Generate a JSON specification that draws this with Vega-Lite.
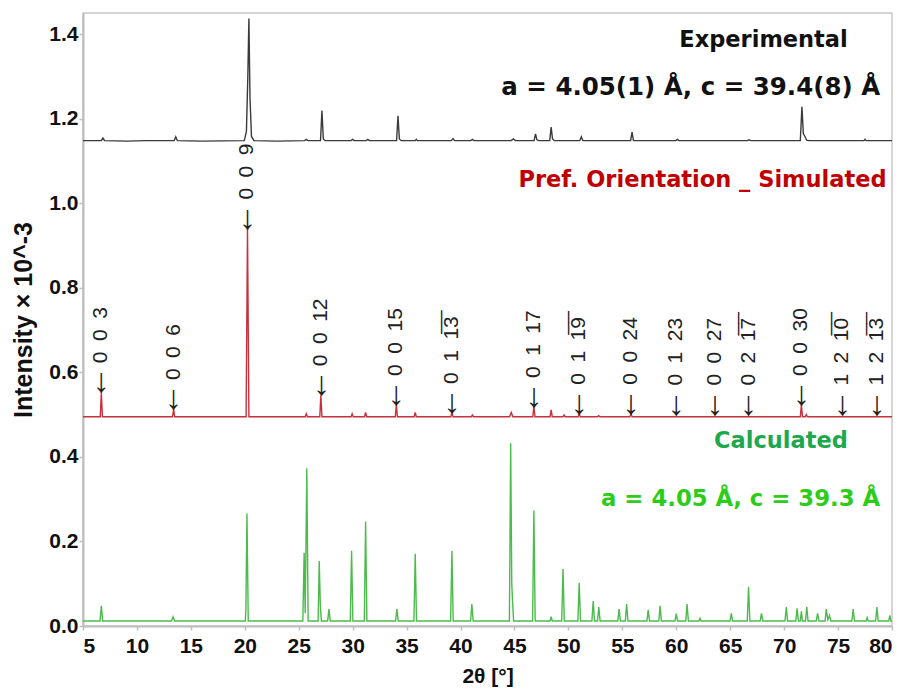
{
  "$schema": "https://vega.github.io/schema/vega-lite/v6.json",
  "width": 809,
  "height": 613,
  "autosize": "none",
  "padding": {"left": 83, "top": 13, "right": 15, "bottom": 64},
  "background": "white",
  "config": {
    "view": {"stroke": "#c8c8c8", "strokeWidth": 1.5},
    "axis": {
      "grid": false,
      "domainColor": "#bdbdbd",
      "domainWidth": 2,
      "tickColor": "#bdbdbd",
      "tickSize": 4,
      "tickWidth": 1.5,
      "labelFont": "Liberation Sans",
      "labelFontWeight": "bold",
      "labelFontSize": 21,
      "labelColor": "#111111",
      "titleFont": "Liberation Sans",
      "titleFontWeight": "bold",
      "titleColor": "#111111"
    }
  },
  "datasets": {
    "spectra": [
      {"s": "Experimental", "x": 5, "y": 1.148},
      {"s": "Experimental", "x": 6.7, "y": 1.148},
      {"s": "Experimental", "x": 6.85, "y": 1.154},
      {"s": "Experimental", "x": 7.0, "y": 1.148},
      {"s": "Experimental", "x": 9, "y": 1.147},
      {"s": "Experimental", "x": 11, "y": 1.148},
      {"s": "Experimental", "x": 13.45, "y": 1.148},
      {"s": "Experimental", "x": 13.6, "y": 1.157},
      {"s": "Experimental", "x": 13.75, "y": 1.148},
      {"s": "Experimental", "x": 16, "y": 1.147},
      {"s": "Experimental", "x": 19.95, "y": 1.148},
      {"s": "Experimental", "x": 20.15, "y": 1.17},
      {"s": "Experimental", "x": 20.28, "y": 1.3},
      {"s": "Experimental", "x": 20.38, "y": 1.437},
      {"s": "Experimental", "x": 20.48, "y": 1.25},
      {"s": "Experimental", "x": 20.62, "y": 1.158},
      {"s": "Experimental", "x": 20.85, "y": 1.148},
      {"s": "Experimental", "x": 23, "y": 1.147},
      {"s": "Experimental", "x": 25.55, "y": 1.148},
      {"s": "Experimental", "x": 25.7, "y": 1.151},
      {"s": "Experimental", "x": 25.85, "y": 1.148},
      {"s": "Experimental", "x": 27.02, "y": 1.148},
      {"s": "Experimental", "x": 27.15, "y": 1.219},
      {"s": "Experimental", "x": 27.28, "y": 1.152},
      {"s": "Experimental", "x": 27.45, "y": 1.148},
      {"s": "Experimental", "x": 29.85, "y": 1.148},
      {"s": "Experimental", "x": 30.0, "y": 1.151},
      {"s": "Experimental", "x": 30.15, "y": 1.148},
      {"s": "Experimental", "x": 31.25, "y": 1.148},
      {"s": "Experimental", "x": 31.4, "y": 1.151},
      {"s": "Experimental", "x": 31.55, "y": 1.148},
      {"s": "Experimental", "x": 34.07, "y": 1.148},
      {"s": "Experimental", "x": 34.2, "y": 1.207},
      {"s": "Experimental", "x": 34.33, "y": 1.152},
      {"s": "Experimental", "x": 34.5, "y": 1.148},
      {"s": "Experimental", "x": 35.8, "y": 1.148},
      {"s": "Experimental", "x": 35.9, "y": 1.151},
      {"s": "Experimental", "x": 36.0, "y": 1.148},
      {"s": "Experimental", "x": 39.15, "y": 1.148},
      {"s": "Experimental", "x": 39.3, "y": 1.153},
      {"s": "Experimental", "x": 39.45, "y": 1.148},
      {"s": "Experimental", "x": 40.95, "y": 1.148},
      {"s": "Experimental", "x": 41.1, "y": 1.151},
      {"s": "Experimental", "x": 41.25, "y": 1.148},
      {"s": "Experimental", "x": 44.7, "y": 1.148},
      {"s": "Experimental", "x": 44.9, "y": 1.152},
      {"s": "Experimental", "x": 45.1, "y": 1.148},
      {"s": "Experimental", "x": 46.82, "y": 1.148},
      {"s": "Experimental", "x": 46.95, "y": 1.164},
      {"s": "Experimental", "x": 47.08, "y": 1.15},
      {"s": "Experimental", "x": 47.25, "y": 1.148},
      {"s": "Experimental", "x": 48.27, "y": 1.148},
      {"s": "Experimental", "x": 48.4, "y": 1.18},
      {"s": "Experimental", "x": 48.53, "y": 1.152},
      {"s": "Experimental", "x": 48.7, "y": 1.148},
      {"s": "Experimental", "x": 51.05, "y": 1.148},
      {"s": "Experimental", "x": 51.2, "y": 1.157},
      {"s": "Experimental", "x": 51.35, "y": 1.148},
      {"s": "Experimental", "x": 55.77, "y": 1.148},
      {"s": "Experimental", "x": 55.9, "y": 1.168},
      {"s": "Experimental", "x": 56.03, "y": 1.148},
      {"s": "Experimental", "x": 59.95, "y": 1.148},
      {"s": "Experimental", "x": 60.1, "y": 1.151},
      {"s": "Experimental", "x": 60.25, "y": 1.148},
      {"s": "Experimental", "x": 66.6, "y": 1.148},
      {"s": "Experimental", "x": 66.75, "y": 1.15},
      {"s": "Experimental", "x": 66.9, "y": 1.148},
      {"s": "Experimental", "x": 71.5, "y": 1.148},
      {"s": "Experimental", "x": 71.65, "y": 1.228},
      {"s": "Experimental", "x": 71.78, "y": 1.165},
      {"s": "Experimental", "x": 71.93, "y": 1.158},
      {"s": "Experimental", "x": 72.08, "y": 1.149},
      {"s": "Experimental", "x": 72.3, "y": 1.148},
      {"s": "Experimental", "x": 77.4, "y": 1.148},
      {"s": "Experimental", "x": 77.5, "y": 1.151},
      {"s": "Experimental", "x": 77.6, "y": 1.148},
      {"s": "Experimental", "x": 80, "y": 1.148},

      {"s": "Simulated", "x": 5, "y": 0.495},
      {"s": "Simulated", "x": 6.6, "y": 0.495},
      {"s": "Simulated", "x": 6.7, "y": 0.553},
      {"s": "Simulated", "x": 6.8, "y": 0.495},
      {"s": "Simulated", "x": 13.3, "y": 0.495},
      {"s": "Simulated", "x": 13.4, "y": 0.513},
      {"s": "Simulated", "x": 13.5, "y": 0.495},
      {"s": "Simulated", "x": 20.12, "y": 0.495},
      {"s": "Simulated", "x": 20.25, "y": 0.94},
      {"s": "Simulated", "x": 20.38, "y": 0.495},
      {"s": "Simulated", "x": 25.6, "y": 0.495},
      {"s": "Simulated", "x": 25.7, "y": 0.502},
      {"s": "Simulated", "x": 25.8, "y": 0.495},
      {"s": "Simulated", "x": 26.95, "y": 0.495},
      {"s": "Simulated", "x": 27.05, "y": 0.546},
      {"s": "Simulated", "x": 27.15, "y": 0.495},
      {"s": "Simulated", "x": 29.85, "y": 0.495},
      {"s": "Simulated", "x": 29.95, "y": 0.502},
      {"s": "Simulated", "x": 30.05, "y": 0.495},
      {"s": "Simulated", "x": 31.1, "y": 0.495},
      {"s": "Simulated", "x": 31.2, "y": 0.505},
      {"s": "Simulated", "x": 31.3, "y": 0.495},
      {"s": "Simulated", "x": 33.95, "y": 0.495},
      {"s": "Simulated", "x": 34.05, "y": 0.523},
      {"s": "Simulated", "x": 34.15, "y": 0.495},
      {"s": "Simulated", "x": 35.7, "y": 0.495},
      {"s": "Simulated", "x": 35.8, "y": 0.505},
      {"s": "Simulated", "x": 35.9, "y": 0.495},
      {"s": "Simulated", "x": 39.1, "y": 0.495},
      {"s": "Simulated", "x": 39.2, "y": 0.504},
      {"s": "Simulated", "x": 39.3, "y": 0.495},
      {"s": "Simulated", "x": 41.0, "y": 0.495},
      {"s": "Simulated", "x": 41.1, "y": 0.499},
      {"s": "Simulated", "x": 41.2, "y": 0.495},
      {"s": "Simulated", "x": 44.55, "y": 0.495},
      {"s": "Simulated", "x": 44.7, "y": 0.505},
      {"s": "Simulated", "x": 44.85, "y": 0.495},
      {"s": "Simulated", "x": 46.7, "y": 0.495},
      {"s": "Simulated", "x": 46.8, "y": 0.52},
      {"s": "Simulated", "x": 46.9, "y": 0.495},
      {"s": "Simulated", "x": 48.3, "y": 0.495},
      {"s": "Simulated", "x": 48.4, "y": 0.511},
      {"s": "Simulated", "x": 48.5, "y": 0.495},
      {"s": "Simulated", "x": 49.5, "y": 0.495},
      {"s": "Simulated", "x": 49.6, "y": 0.499},
      {"s": "Simulated", "x": 49.7, "y": 0.495},
      {"s": "Simulated", "x": 50.9, "y": 0.495},
      {"s": "Simulated", "x": 51.0, "y": 0.502},
      {"s": "Simulated", "x": 51.1, "y": 0.495},
      {"s": "Simulated", "x": 52.7, "y": 0.495},
      {"s": "Simulated", "x": 52.8, "y": 0.498},
      {"s": "Simulated", "x": 52.9, "y": 0.495},
      {"s": "Simulated", "x": 55.7, "y": 0.495},
      {"s": "Simulated", "x": 55.8, "y": 0.502},
      {"s": "Simulated", "x": 55.9, "y": 0.495},
      {"s": "Simulated", "x": 71.5, "y": 0.495},
      {"s": "Simulated", "x": 71.6, "y": 0.523},
      {"s": "Simulated", "x": 71.7, "y": 0.495},
      {"s": "Simulated", "x": 71.95, "y": 0.495},
      {"s": "Simulated", "x": 72.05, "y": 0.5},
      {"s": "Simulated", "x": 72.15, "y": 0.495},
      {"s": "Simulated", "x": 80, "y": 0.495},

      {"s": "Calculated", "x": 5, "y": 0.012},
      {"s": "Calculated", "x": 6.58, "y": 0.012},
      {"s": "Calculated", "x": 6.7, "y": 0.048},
      {"s": "Calculated", "x": 6.82, "y": 0.012},
      {"s": "Calculated", "x": 13.2, "y": 0.012},
      {"s": "Calculated", "x": 13.35, "y": 0.022},
      {"s": "Calculated", "x": 13.5, "y": 0.012},
      {"s": "Calculated", "x": 20.05, "y": 0.012},
      {"s": "Calculated", "x": 20.1, "y": 0.04},
      {"s": "Calculated", "x": 20.2, "y": 0.266},
      {"s": "Calculated", "x": 20.32, "y": 0.012},
      {"s": "Calculated", "x": 25.38, "y": 0.012},
      {"s": "Calculated", "x": 25.5, "y": 0.173},
      {"s": "Calculated", "x": 25.6, "y": 0.03},
      {"s": "Calculated", "x": 25.75, "y": 0.373},
      {"s": "Calculated", "x": 25.87, "y": 0.012},
      {"s": "Calculated", "x": 26.8, "y": 0.012},
      {"s": "Calculated", "x": 26.9, "y": 0.154},
      {"s": "Calculated", "x": 27.0, "y": 0.05},
      {"s": "Calculated", "x": 27.1, "y": 0.012},
      {"s": "Calculated", "x": 27.68, "y": 0.012},
      {"s": "Calculated", "x": 27.8, "y": 0.04},
      {"s": "Calculated", "x": 27.92, "y": 0.012},
      {"s": "Calculated", "x": 29.78, "y": 0.012},
      {"s": "Calculated", "x": 29.9, "y": 0.178},
      {"s": "Calculated", "x": 30.02, "y": 0.012},
      {"s": "Calculated", "x": 31.08, "y": 0.012},
      {"s": "Calculated", "x": 31.2, "y": 0.247},
      {"s": "Calculated", "x": 31.32, "y": 0.012},
      {"s": "Calculated", "x": 33.98, "y": 0.012},
      {"s": "Calculated", "x": 34.1, "y": 0.04},
      {"s": "Calculated", "x": 34.22, "y": 0.012},
      {"s": "Calculated", "x": 35.68, "y": 0.012},
      {"s": "Calculated", "x": 35.8, "y": 0.171},
      {"s": "Calculated", "x": 35.92, "y": 0.012},
      {"s": "Calculated", "x": 39.08, "y": 0.012},
      {"s": "Calculated", "x": 39.2, "y": 0.178},
      {"s": "Calculated", "x": 39.32, "y": 0.012},
      {"s": "Calculated", "x": 40.93, "y": 0.012},
      {"s": "Calculated", "x": 41.05, "y": 0.052},
      {"s": "Calculated", "x": 41.17, "y": 0.012},
      {"s": "Calculated", "x": 44.53, "y": 0.012},
      {"s": "Calculated", "x": 44.65, "y": 0.432},
      {"s": "Calculated", "x": 44.75, "y": 0.1},
      {"s": "Calculated", "x": 44.82, "y": 0.06},
      {"s": "Calculated", "x": 44.92, "y": 0.012},
      {"s": "Calculated", "x": 46.68, "y": 0.012},
      {"s": "Calculated", "x": 46.8, "y": 0.273},
      {"s": "Calculated", "x": 46.92, "y": 0.012},
      {"s": "Calculated", "x": 48.3, "y": 0.012},
      {"s": "Calculated", "x": 48.4, "y": 0.022},
      {"s": "Calculated", "x": 48.5, "y": 0.012},
      {"s": "Calculated", "x": 49.38, "y": 0.012},
      {"s": "Calculated", "x": 49.5, "y": 0.135},
      {"s": "Calculated", "x": 49.62, "y": 0.012},
      {"s": "Calculated", "x": 50.88, "y": 0.012},
      {"s": "Calculated", "x": 51.0, "y": 0.102},
      {"s": "Calculated", "x": 51.12, "y": 0.012},
      {"s": "Calculated", "x": 52.18, "y": 0.012},
      {"s": "Calculated", "x": 52.3, "y": 0.059},
      {"s": "Calculated", "x": 52.42, "y": 0.012},
      {"s": "Calculated", "x": 52.7, "y": 0.012},
      {"s": "Calculated", "x": 52.82, "y": 0.045},
      {"s": "Calculated", "x": 52.94, "y": 0.012},
      {"s": "Calculated", "x": 54.58, "y": 0.012},
      {"s": "Calculated", "x": 54.7, "y": 0.04},
      {"s": "Calculated", "x": 54.82, "y": 0.012},
      {"s": "Calculated", "x": 55.28, "y": 0.012},
      {"s": "Calculated", "x": 55.4, "y": 0.052},
      {"s": "Calculated", "x": 55.52, "y": 0.012},
      {"s": "Calculated", "x": 57.28, "y": 0.012},
      {"s": "Calculated", "x": 57.4, "y": 0.038},
      {"s": "Calculated", "x": 57.52, "y": 0.012},
      {"s": "Calculated", "x": 58.38, "y": 0.012},
      {"s": "Calculated", "x": 58.5, "y": 0.048},
      {"s": "Calculated", "x": 58.62, "y": 0.012},
      {"s": "Calculated", "x": 59.88, "y": 0.012},
      {"s": "Calculated", "x": 60.0, "y": 0.029},
      {"s": "Calculated", "x": 60.12, "y": 0.012},
      {"s": "Calculated", "x": 60.88, "y": 0.012},
      {"s": "Calculated", "x": 61.0, "y": 0.052},
      {"s": "Calculated", "x": 61.12, "y": 0.012},
      {"s": "Calculated", "x": 62.1, "y": 0.012},
      {"s": "Calculated", "x": 62.2, "y": 0.018},
      {"s": "Calculated", "x": 62.3, "y": 0.012},
      {"s": "Calculated", "x": 64.98, "y": 0.012},
      {"s": "Calculated", "x": 65.1, "y": 0.03},
      {"s": "Calculated", "x": 65.22, "y": 0.012},
      {"s": "Calculated", "x": 66.58, "y": 0.012},
      {"s": "Calculated", "x": 66.7, "y": 0.093},
      {"s": "Calculated", "x": 66.82, "y": 0.012},
      {"s": "Calculated", "x": 67.78, "y": 0.012},
      {"s": "Calculated", "x": 67.9, "y": 0.03},
      {"s": "Calculated", "x": 68.02, "y": 0.012},
      {"s": "Calculated", "x": 70.08, "y": 0.012},
      {"s": "Calculated", "x": 70.2, "y": 0.045},
      {"s": "Calculated", "x": 70.32, "y": 0.012},
      {"s": "Calculated", "x": 71.08, "y": 0.012},
      {"s": "Calculated", "x": 71.2, "y": 0.042},
      {"s": "Calculated", "x": 71.32, "y": 0.012},
      {"s": "Calculated", "x": 71.5, "y": 0.012},
      {"s": "Calculated", "x": 71.6, "y": 0.035},
      {"s": "Calculated", "x": 71.7, "y": 0.012},
      {"s": "Calculated", "x": 71.98, "y": 0.012},
      {"s": "Calculated", "x": 72.1, "y": 0.045},
      {"s": "Calculated", "x": 72.22, "y": 0.012},
      {"s": "Calculated", "x": 72.98, "y": 0.012},
      {"s": "Calculated", "x": 73.1, "y": 0.03},
      {"s": "Calculated", "x": 73.22, "y": 0.012},
      {"s": "Calculated", "x": 73.8, "y": 0.012},
      {"s": "Calculated", "x": 73.9, "y": 0.04},
      {"s": "Calculated", "x": 74.05, "y": 0.015},
      {"s": "Calculated", "x": 74.2, "y": 0.025},
      {"s": "Calculated", "x": 74.32, "y": 0.012},
      {"s": "Calculated", "x": 76.28, "y": 0.012},
      {"s": "Calculated", "x": 76.4, "y": 0.04},
      {"s": "Calculated", "x": 76.52, "y": 0.012},
      {"s": "Calculated", "x": 77.6, "y": 0.012},
      {"s": "Calculated", "x": 77.7, "y": 0.02},
      {"s": "Calculated", "x": 77.8, "y": 0.012},
      {"s": "Calculated", "x": 78.48, "y": 0.012},
      {"s": "Calculated", "x": 78.6, "y": 0.045},
      {"s": "Calculated", "x": 78.72, "y": 0.012},
      {"s": "Calculated", "x": 79.7, "y": 0.012},
      {"s": "Calculated", "x": 79.8, "y": 0.025},
      {"s": "Calculated", "x": 79.9, "y": 0.012},
      {"s": "Calculated", "x": 80, "y": 0.012}
    ],
    "hkl": [
      {"x": 6.7, "y": 0.553, "label": "0\u20020\u20023"},
      {"x": 13.4, "y": 0.513, "label": "0\u20020\u20026"},
      {"x": 20.25, "y": 0.94, "label": "0\u20020\u20029"},
      {"x": 27.1, "y": 0.546, "label": "0\u20020\u200212"},
      {"x": 34.05, "y": 0.523, "label": "0\u20020\u200215"},
      {"x": 39.2, "y": 0.504, "label": "0\u20021\u20021\u03053\u0305"},
      {"x": 46.8, "y": 0.518, "label": "0\u20021\u200217"},
      {"x": 51.0, "y": 0.502, "label": "0\u20021\u20021\u03059\u0305"},
      {"x": 55.8, "y": 0.502, "label": "0\u20020\u200224"},
      {"x": 60.0, "y": 0.5, "label": "0\u20021\u200223"},
      {"x": 63.6, "y": 0.5, "label": "0\u20020\u200227"},
      {"x": 66.7, "y": 0.5, "label": "0\u20022\u20021\u03057\u0305"},
      {"x": 71.6, "y": 0.523, "label": "0\u20020\u200230"},
      {"x": 75.4, "y": 0.5, "label": "1\u20022\u20021\u03050\u0305"},
      {"x": 78.6, "y": 0.5, "label": "1\u20022\u20021\u03053\u0305"}
    ]
  },
  "layer": [
    {
      "data": {"name": "spectra"},
      "mark": {"type": "line", "strokeWidth": 1.4, "interpolate": "linear"},
      "encoding": {
        "x": {
          "field": "x", "type": "quantitative",
          "scale": {"domain": [5, 80], "nice": false, "zero": false},
          "axis": {"values": [5, 10, 15, 20, 25, 30, 35, 40, 45, 50, 55, 60, 65, 70, 75, 80], "title": "2θ [°]", "titleFontSize": 21, "labelPadding": 5, "titlePadding": 9}
        },
        "y": {
          "field": "y", "type": "quantitative",
          "scale": {"domain": [0, 1.45], "nice": false},
          "axis": {"values": [0, 0.2, 0.4, 0.6, 0.8, 1.0, 1.2, 1.4], "format": ".1f", "title": "Intensity × 10^-3", "titleFontSize": 25, "labelPadding": 1, "titleX": -47}
        },
        "color": {
          "field": "s", "type": "nominal",
          "scale": {"domain": ["Experimental", "Simulated", "Calculated"], "range": ["#3a3a3a", "#c8303c", "#4cbb4c"]},
          "legend": null
        }
      }
    },
    {
      "data": {"name": "hkl"},
      "mark": {"type": "text", "align": "center", "baseline": "alphabetic", "font": "Liberation Sans", "fontWeight": "bold", "fontSize": 34, "color": "#222222"},
      "encoding": {
        "x": {"field": "x", "type": "quantitative"},
        "y": {"field": "y", "type": "quantitative"},
        "text": {"value": "↓"}
      }
    },
    {
      "data": {"name": "hkl"},
      "mark": {"type": "text", "angle": 270, "align": "left", "baseline": "middle", "font": "Liberation Sans", "fontSize": 21, "color": "#222222", "dx": 29},
      "encoding": {
        "x": {"field": "x", "type": "quantitative"},
        "y": {"field": "y", "type": "quantitative"},
        "text": {"field": "label"}
      }
    },
    {
      "data": {"values": [{"x": 75.9, "y": 1.386, "t": "Experimental"}]},
      "mark": {"type": "text", "align": "right", "baseline": "middle", "font": "DejaVu Sans", "fontWeight": "bold", "fontSize": 22.5, "color": "#111111"},
      "encoding": {
        "x": {"field": "x", "type": "quantitative"},
        "y": {"field": "y", "type": "quantitative"},
        "text": {"field": "t"}
      }
    },
    {
      "data": {"values": [{"x": 78.9, "y": 1.272, "t": "a = 4.05(1) Å, c = 39.4(8) Å"}]},
      "mark": {"type": "text", "align": "right", "baseline": "middle", "font": "DejaVu Sans", "fontWeight": "bold", "fontSize": 24.5, "color": "#111111"},
      "encoding": {
        "x": {"field": "x", "type": "quantitative"},
        "y": {"field": "y", "type": "quantitative"},
        "text": {"field": "t"}
      }
    },
    {
      "data": {"values": [{"x": 79.5, "y": 1.055, "t": "Pref. Orientation _ Simulated"}]},
      "mark": {"type": "text", "align": "right", "baseline": "middle", "font": "DejaVu Sans", "fontWeight": "bold", "fontSize": 22.5, "color": "#c00000"},
      "encoding": {
        "x": {"field": "x", "type": "quantitative"},
        "y": {"field": "y", "type": "quantitative"},
        "text": {"field": "t"}
      }
    },
    {
      "data": {"values": [{"x": 75.9, "y": 0.438, "t": "Calculated"}]},
      "mark": {"type": "text", "align": "right", "baseline": "middle", "font": "DejaVu Sans", "fontWeight": "bold", "fontSize": 22.5, "color": "#1ea84e"},
      "encoding": {
        "x": {"field": "x", "type": "quantitative"},
        "y": {"field": "y", "type": "quantitative"},
        "text": {"field": "t"}
      }
    },
    {
      "data": {"values": [{"x": 78.9, "y": 0.3, "t": "a = 4.05 Å, c = 39.3 Å"}]},
      "mark": {"type": "text", "align": "right", "baseline": "middle", "font": "DejaVu Sans", "fontWeight": "bold", "fontSize": 22.8, "color": "#2ecc1a"},
      "encoding": {
        "x": {"field": "x", "type": "quantitative"},
        "y": {"field": "y", "type": "quantitative"},
        "text": {"field": "t"}
      }
    }
  ]
}
